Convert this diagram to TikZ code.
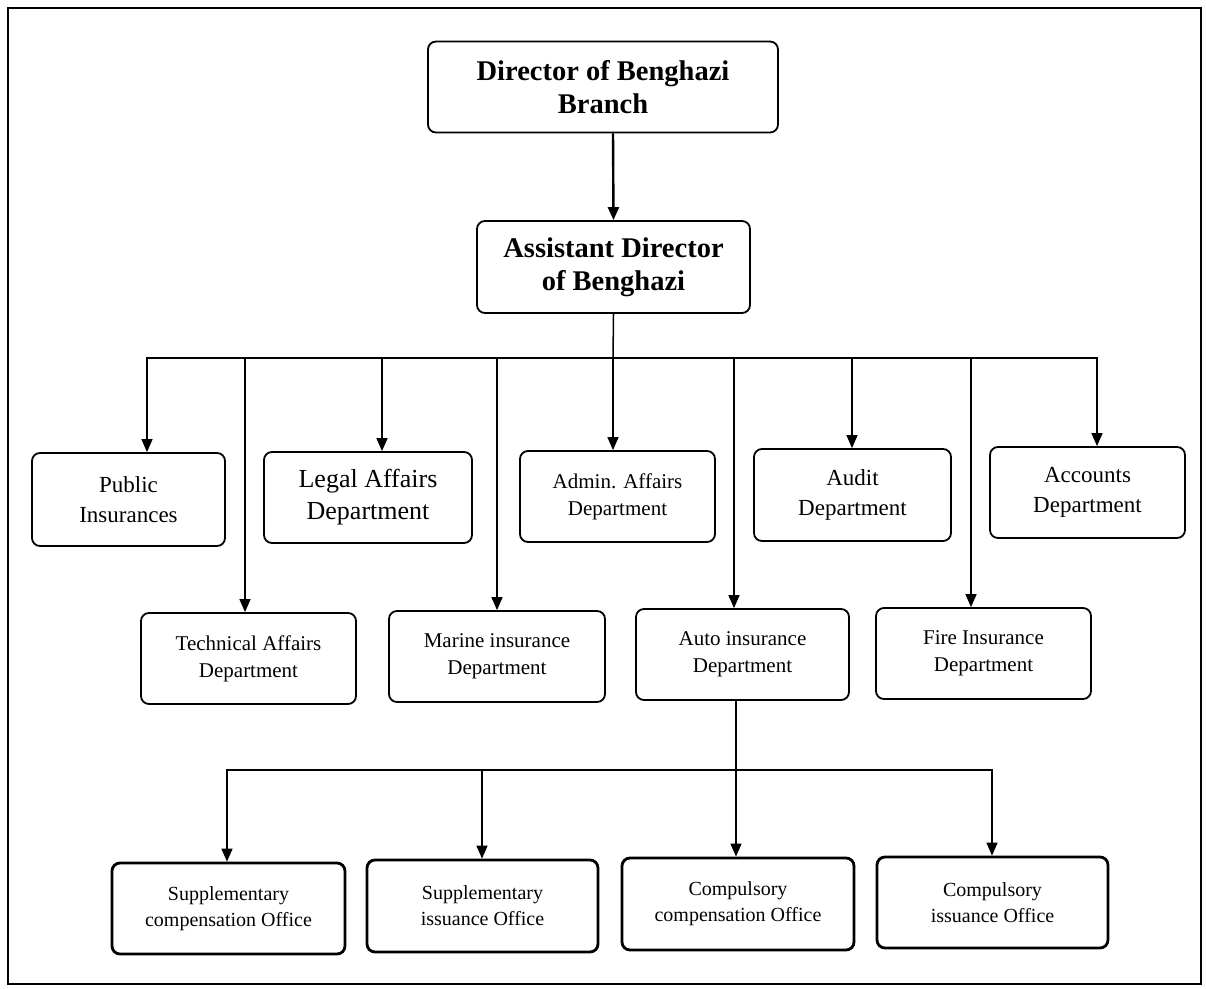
\documentclass[tikz,border=0pt]{standalone}
\usepackage{fontspec}
\setmainfont{Liberation Serif}
\usetikzlibrary{arrows.meta}
\begin{document}
\begin{tikzpicture}[x=1pt,y=-1pt,
  box/.style={draw, line width=1.8pt, rounded corners=8pt, align=center, inner sep=2pt},
  bigtxt/.style={font=\fontsize{28.5}{33}\selectfont\bfseries},
  midtxt/.style={font=\fontsize{23}{30}\selectfont},
  smalltxt/.style={font=\fontsize{21}{27}\selectfont},
  office/.style={box, line width=2.8pt, font=\fontsize{20}{26}\selectfont},
  link/.style={line width=1.5pt},
  arr/.style={link, -{Triangle[length=13pt,width=11pt]}}
]
\useasboundingbox (0,0) rectangle (1206,988);
% page frame
\draw[line width=1.6pt] (8,8) rectangle (1201,984);

% top management
\node[box, bigtxt, minimum width=350, minimum height=91] (dir) at (603,87) {Director of Benghazi\\Branch};
\node[box, bigtxt, minimum width=273, minimum height=92] (asst) at (613.5,267) {Assistant Director\\of Benghazi};

% departments, upper row
\node[box, midtxt, minimum width=193, minimum height=93] (pub) at (128.5,499.5) {Public\\Insurances};
\node[box, font=\fontsize{26}{32}\selectfont, minimum width=208, minimum height=91] (legal) at (368,497.5) {Legal Affairs\\Department};
\node[box, smalltxt, minimum width=195, minimum height=91] (admin) at (617.5,496.5) {Admin. Affairs\\Department};
\node[box, midtxt, minimum width=197, minimum height=92] (audit) at (852.5,495) {Audit\\Department};
\node[box, midtxt, minimum width=195, minimum height=91] (acc) at (1087.5,492.5) {Accounts\\Department};

% departments, lower row
\node[box, smalltxt, minimum width=215, minimum height=91] (tech) at (248.5,658.5) {Technical Affairs\\Department};
\node[box, smalltxt, minimum width=216, minimum height=91] (marine) at (497,656.5) {Marine insurance\\Department};
\node[box, smalltxt, minimum width=213, minimum height=91] (auto) at (742.5,654.5) {Auto insurance\\Department};
\node[box, smalltxt, minimum width=215, minimum height=91] (fire) at (983.5,653.5) {Fire Insurance\\Department};

% offices under the auto insurance department
\node[office, minimum width=233, minimum height=91] (sc) at (228.5,908.5) {Supplementary\\compensation Office};
\node[office, minimum width=231, minimum height=92] (si) at (482.5,906) {Supplementary\\issuance Office};
\node[office, minimum width=232, minimum height=92] (cc) at (738,904) {Compulsory\\compensation Office};
\node[office, minimum width=231, minimum height=91] (ci) at (992.5,902.5) {Compulsory\\issuance Office};

% connectors
\coordinate (bus) at (613,358);
\coordinate (bus2) at (736,770);

\draw[arr, line width=2.4pt] ([xshift=10pt]dir.south) -- (asst.north);
\draw[link] (asst.south) -- (bus);
\draw[arr] (bus) -| ([xshift=18.5pt]pub.north);
\draw[arr] (bus) -| ([xshift=-3.5pt]tech.north);
\draw[arr] (bus) -| ([xshift=14pt]legal.north);
\draw[arr] (bus) -| (marine.north);
\draw[arr] (bus) -- ([xshift=-4.5pt]admin.north);
\draw[arr] (bus) -| ([xshift=-8.5pt]auto.north);
\draw[arr] (bus) -| ([xshift=-0.5pt]audit.north);
\draw[arr] (bus) -| ([xshift=-12.5pt]fire.north);
\draw[arr] (bus) -| ([xshift=9.5pt]acc.north);

\draw[link] ([xshift=-6.5pt]auto.south) -- (bus2);
\draw[arr] (bus2) -| ([xshift=-1.5pt]sc.north);
\draw[arr] (bus2) -| ([xshift=-0.5pt]si.north);
\draw[arr] (bus2) -- ([xshift=-2pt]cc.north);
\draw[arr] (bus2) -| ([xshift=-0.5pt]ci.north);
\end{tikzpicture}
\end{document}
